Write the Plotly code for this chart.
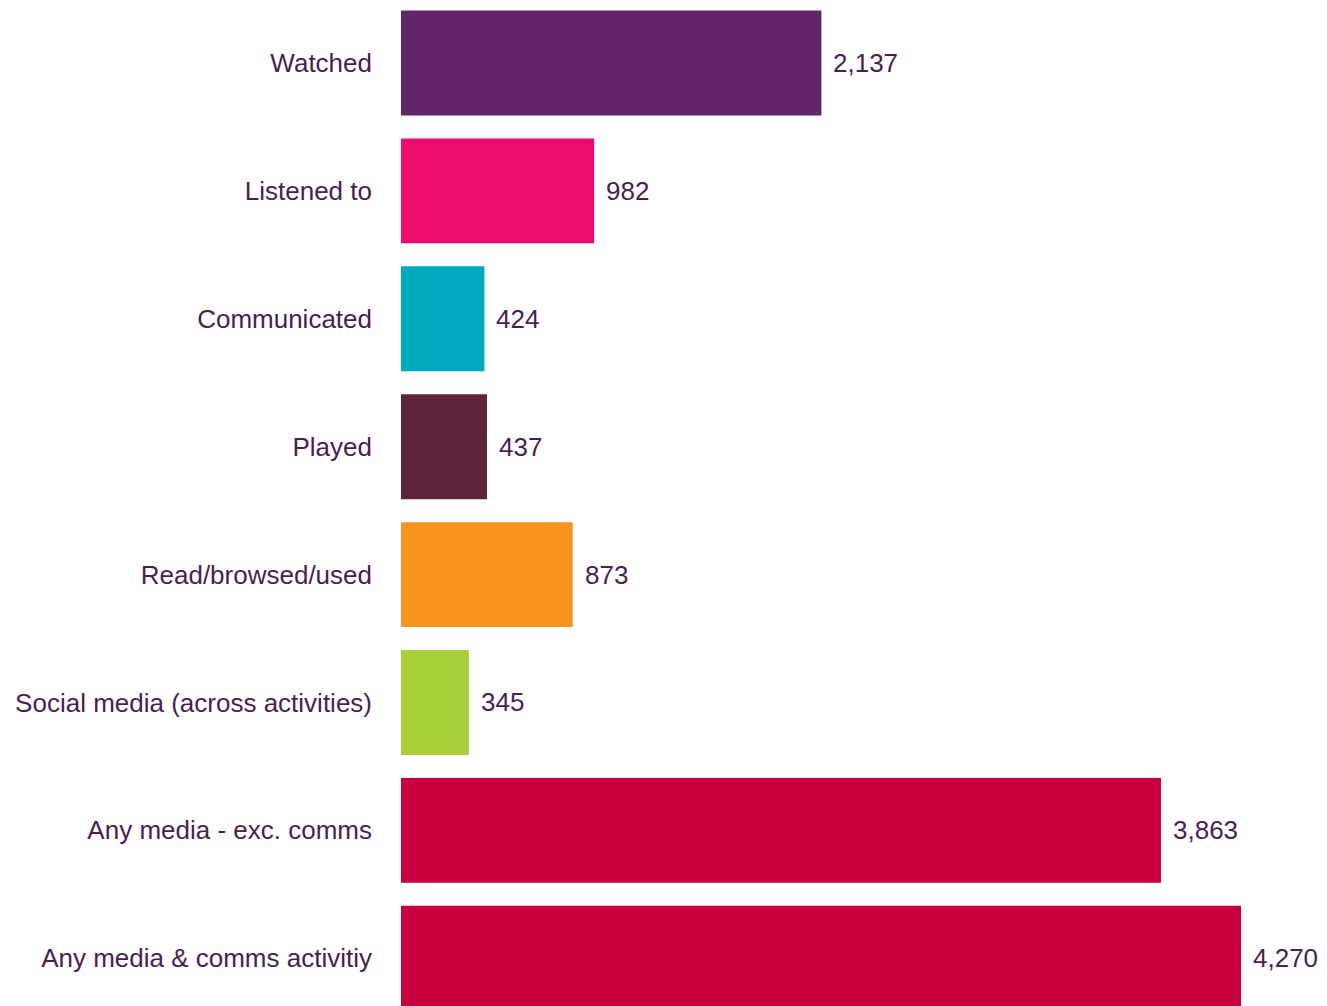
import plotly.graph_objects as go

categories = ["Watched", "Listened to", "Communicated", "Played", "Read/browsed/used",
              "Social media (across activities)", "Any media - exc. comms", "Any media & comms activitiy"]
values = [2137, 982, 424, 437, 873, 345, 3863, 4270]
colors = ["#622567", "#EB0C6E", "#00A9BD", "#5C2339", "#F7941D", "#A8CF38", "#C8003E", "#C8003E"]

FONT = "Liberation Sans, Arial, sans-serif"
TXT = "#4B1D52"
SIZE = 26

fig = go.Figure(go.Bar(
    x=values, y=categories, orientation="h",
    marker=dict(color=colors, line=dict(width=0)),
    width=0.82, hoverinfo="x+y",
))

for c, v in zip(categories, values):
    fig.add_annotation(x=v, y=c, text=f"{v:,}", showarrow=False, xanchor="left",
                       xshift=10, font=dict(family=FONT, size=SIZE, color=TXT))

fig.update_layout(
    width=1319, height=998,
    margin=dict(l=393, r=0, t=0, b=0),
    plot_bgcolor="white", paper_bgcolor="white",
    showlegend=False,
    font=dict(family=FONT, size=SIZE, color=TXT),
    xaxis=dict(range=[0, 4707], visible=False, showgrid=False, zeroline=False),
    yaxis=dict(categoryorder="array", categoryarray=categories,
               range=[7.373, -0.430], showgrid=False, zeroline=False, showline=False,
               ticks="", ticklabelstandoff=28, automargin=False,
               tickfont=dict(family=FONT, size=SIZE, color=TXT)),
)

fig.write_html("out.html")
